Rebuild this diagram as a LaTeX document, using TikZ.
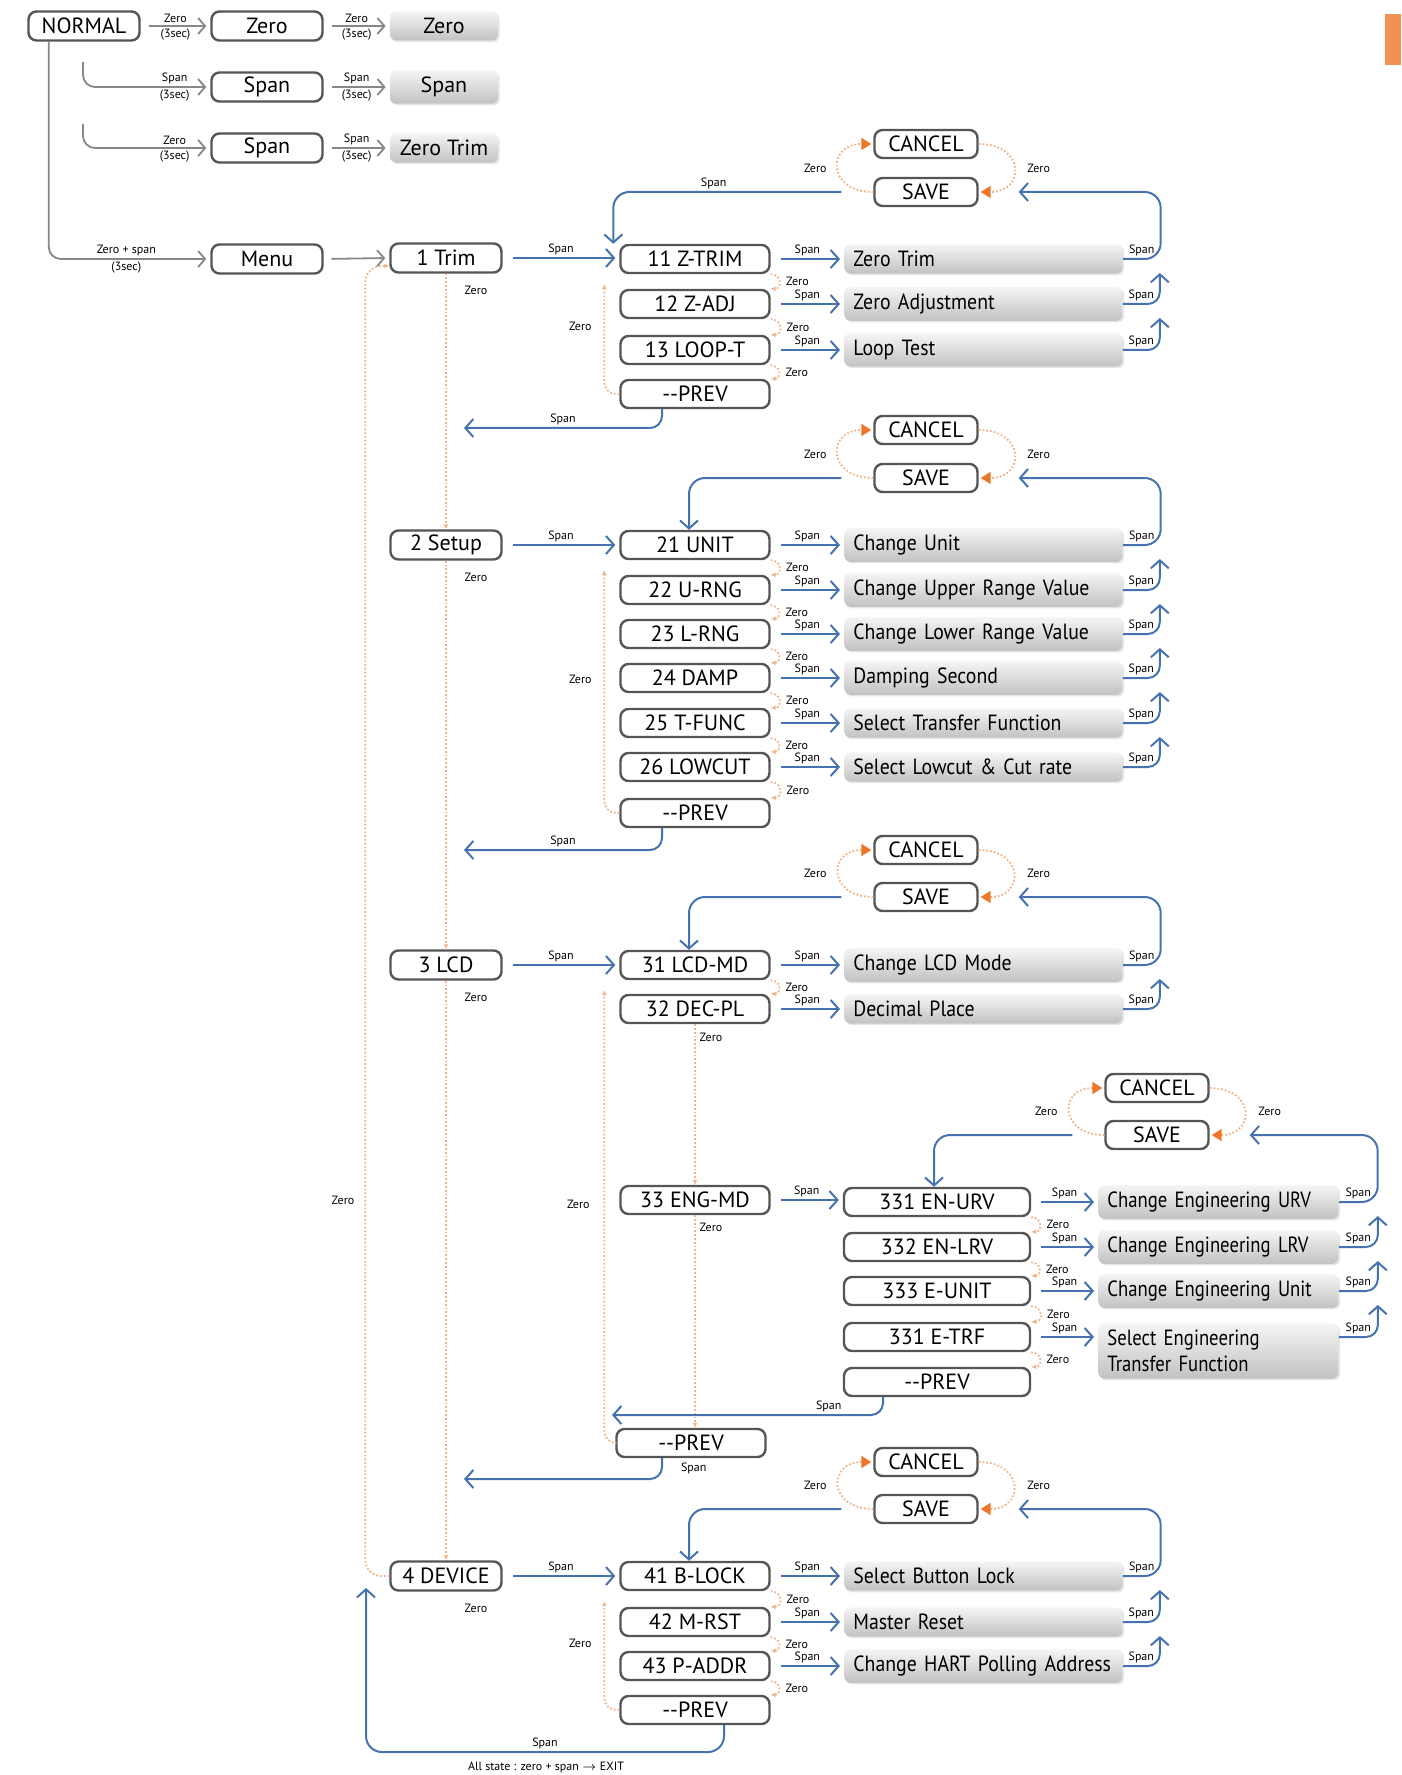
\documentclass[tikz,border=0pt]{standalone}
\usepackage{fontspec}
\setmainfont{PT Sans}
\newfontfamily\narrowA[FakeStretch=0.9]{PT Sans}
\newfontfamily\narrowB[FakeStretch=0.85]{PT Sans}
\usetikzlibrary{arrows.meta,calc,shadows}
\definecolor{boxln}{RGB}{85,85,85}
\definecolor{blu}{RGB}{70,115,175}
\definecolor{orng}{RGB}{238,118,40}
\definecolor{odl}{RGB}{244,178,135}
\definecolor{garr}{RGB}{135,135,135}
\begin{document}
\begin{tikzpicture}[x=0.5pt,y=-0.5pt,
  every node/.style={font=\fontsize{11}{13}\selectfont},
  mbox/.style={draw=boxln,line width=1.2pt,rounded corners=4pt,fill=white,minimum width=55.5pt,minimum height=14.5pt,inner sep=1pt},
  sbox/.style={mbox,minimum width=74.5pt,minimum height=14pt},
  ebox/.style={mbox,minimum width=93pt,minimum height=14pt},
  cbox/.style={mbox,minimum width=51.5pt,minimum height=14pt},
  tbox/.style={top color=black!4,bottom color=black!24,rounded corners=3pt,minimum width=54pt,minimum height=13.5pt,drop shadow={opacity=0.2,shadow xshift=0.8pt,shadow yshift=-0.8pt}},
  fbox/.style={tbox,anchor=west,minimum width=139pt,minimum height=14pt,text width=130pt,align=left,inner xsep=4.5pt,font=\narrowA\fontsize{11}{13}\selectfont},
  gbox/.style={fbox,minimum width=120pt,text width=111pt,font=\narrowB\fontsize{11}{13}\selectfont},
  lbl/.style={font=\fontsize{6}{7}\selectfont,inner sep=1pt},
  garrow/.style={draw=garr,line width=0.9pt,-{Straight Barb[length=3.5pt,width=8pt]}},
  gshort/.style={garrow,shorten <=4pt,shorten >=2pt},
  barrow/.style={draw=blu,line width=1pt,-{Straight Barb[length=4pt,width=9pt]}},
  sarrow/.style={barrow,shorten <=5pt,shorten >=2pt},
  odot/.style={draw=odl,line width=0.9pt,densely dotted},
  otip/.style={-{Triangle[length=5pt,width=6pt,color=orng]},shorten >=1pt},
  ztip/.style={-{Latex[length=2.5pt,width=2.5pt]}}]
\useasboundingbox (0,0) rectangle (1401,1775);
\fill[orng!80] (1385,14) rectangle (1401,65);

% normal mode
\node[mbox] (normal) at (84,26) {NORMAL};
\node[mbox] (zeroA) at (267,26) {Zero};
\node[tbox] (zeroB) at (444,26) {Zero};
\node[mbox] (spanA) at (267,87) {Span};
\node[tbox] (spanB) at (444,87) {Span};
\node[mbox] (spanC) at (267,148) {Span};
\node[tbox] (ztrimC) at (444,148) {Zero Trim};
\node[mbox] (menu) at (267,259) {Menu};
\coordinate (br2) at (83,62);
\coordinate (br3) at (83,124);
\draw[gshort] (normal.east) -- node[lbl,above]{Zero} node[lbl,below]{(3sec)} (zeroA.west);
\draw[gshort] (zeroA.east) -- node[lbl,above]{Zero} node[lbl,below]{(3sec)} (zeroB.west);
\draw[garrow,rounded corners=6pt,shorten >=2pt] (br2) |- node[lbl,pos=0.86,above]{Span} node[lbl,pos=0.86,below]{(3sec)} (spanA.west);
\draw[gshort] (spanA.east) -- node[lbl,above]{Span} node[lbl,below]{(3sec)} (spanB.west);
\draw[garrow,rounded corners=6pt,shorten >=2pt] (br3) |- node[lbl,pos=0.86,above]{Zero} node[lbl,pos=0.86,below]{(3sec)} (spanC.west);
\draw[gshort] (spanC.east) -- node[lbl,above]{Span} node[lbl,below]{(3sec)} (ztrimC.west);
\draw[garrow,rounded corners=6pt,shorten >=2pt] ($(normal.south west)+(21.5,0)$) |- node[lbl,pos=0.74,above]{Zero + span} node[lbl,pos=0.74,below]{(3sec)} (menu.west);

% main menu
\node[mbox] (trim) at (446,258) {1 Trim};
\node[mbox] (setup) at (446,545) {2 Setup};
\node[mbox] (lcd) at (446,965) {3 LCD};
\node[mbox] (device) at (446,1576) {4 DEVICE};
\draw[gshort] (menu.east) -- (trim.west);
\draw[odot,ztip] (trim.south) -- (setup.north);
\draw[odot,ztip] (setup.south) -- (lcd.north);
\draw[odot,ztip] (lcd.south) -- (device.north);
\foreach \m in {trim,setup,lcd,device}
  \node[lbl] at ($(\m.south)+(30,17)$) {Zero};
\draw[odot,ztip,rounded corners=8pt] (device.west) -- ++(-24,0) |- ($(trim.west)+(0,8)$);
\node[lbl] at (343,1200) {Zero};

% 1 trim
\node[cbox] (c1) at (926,144) {CANCEL};
\node[cbox] (v1) at (926,192) {SAVE};
\node[sbox] (s11) at (695,259) {11 Z-TRIM};
\node[sbox] (s12) at (695,304) {12 Z-ADJ};
\node[sbox] (s13) at (695,350) {13 LOOP-T};
\node[sbox] (s1p) at (695,394) {-{}-PREV};
\node[fbox] (f11) at (844,259) {Zero Trim};
\node[fbox] (f12) at (844,304) {Zero Adjustment};
\node[fbox] (f13) at (844,350) {Loop Test};

% 2 setup
\node[cbox] (c2) at (926,430) {CANCEL};
\node[cbox] (v2) at (926,478) {SAVE};
\node[sbox] (s21) at (695,545) {21 UNIT};
\node[sbox] (s22) at (695,590) {22 U-RNG};
\node[sbox] (s23) at (695,634) {23 L-RNG};
\node[sbox] (s24) at (695,678) {24 DAMP};
\node[sbox] (s25) at (695,723) {25 T-FUNC};
\node[sbox] (s26) at (695,767) {26 LOWCUT};
\node[sbox] (s2p) at (695,813) {-{}-PREV};
\node[fbox] (f21) at (844,545) {Change Unit};
\node[fbox] (f22) at (844,590) {Change Upper Range Value};
\node[fbox] (f23) at (844,634) {Change Lower Range Value};
\node[fbox] (f24) at (844,678) {Damping Second};
\node[fbox] (f25) at (844,723) {Select Transfer Function};
\node[fbox] (f26) at (844,767) {Select Lowcut \& Cut rate};

% 3 lcd
\node[cbox] (c3) at (926,850) {CANCEL};
\node[cbox] (v3) at (926,897) {SAVE};
\node[sbox] (s31) at (695,965) {31 LCD-MD};
\node[sbox] (s32) at (695,1009) {32 DEC-PL};
\node[sbox] (s33) at (695,1200) {33 ENG-MD};
\node[sbox] (s3p) at (691,1443) {-{}-PREV};
\node[fbox] (f31) at (844,965) {Change LCD Mode};
\node[fbox] (f32) at (844,1009) {Decimal Place};

% 33 eng-md
\node[cbox] (c33) at (1157,1088) {CANCEL};
\node[cbox] (v33) at (1157,1135) {SAVE};
\node[ebox] (t331) at (937,1202) {331 EN-URV};
\node[ebox] (t332) at (937,1247) {332 EN-LRV};
\node[ebox] (t333) at (937,1291) {333 E-UNIT};
\node[ebox] (t334) at (937,1337) {331 E-TRF};
\node[ebox] (t33p) at (937,1382) {-{}-PREV};
\node[gbox] (g331) at (1098,1202) {Change Engineering URV};
\node[gbox] (g332) at (1098,1247) {Change Engineering LRV};
\node[gbox] (g333) at (1098,1291) {Change Engineering Unit};
\node[gbox,minimum height=27pt] (g334) at (1098,1351) {Select Engineering\\Transfer Function};

% 4 device
\node[cbox] (c4) at (926,1462) {CANCEL};
\node[cbox] (v4) at (926,1509) {SAVE};
\node[sbox] (s41) at (695,1576) {41 B-LOCK};
\node[sbox] (s42) at (695,1622) {42 M-RST};
\node[sbox] (s43) at (695,1666) {43 P-ADDR};
\node[sbox] (s4p) at (695,1710) {-{}-PREV};
\node[fbox] (f41) at (844,1576) {Select Button Lock};
\node[fbox] (f42) at (844,1622) {Master Reset};
\node[fbox] (f43) at (844,1666) {Change HART Polling Address};

\coordinate (back1) at (464,428);
\coordinate (back2) at (464,850);
\coordinate (back3) at (464,1479);
\coordinate (back33) at (612,1415);
\coordinate (bot4) at (366,1752);
\coordinate (up4) at (366,1588);

% menu -> first item
\draw[sarrow] (trim.east) -- node[lbl,above]{Span} (trim.east -| s11.west);
\draw[sarrow] (setup.east) -- node[lbl,above]{Span} (setup.east -| s21.west);
\draw[sarrow] (lcd.east) -- node[lbl,above]{Span} (lcd.east -| s31.west);
\draw[sarrow] (device.east) -- node[lbl,above]{Span} (device.east -| s41.west);
\draw[sarrow] (s33.east) -- node[lbl,above]{Span} (s33.east -| t331.west);

% item -> function
\foreach \s in {11,12,13,21,22,23,24,25,26,31,32,41,42,43}
  \draw[sarrow] (s\s.east) -- node[lbl,above]{Span} (f\s.west);
\foreach \s in {331,332,333,334}
  \draw[sarrow] (t\s.east) -- node[lbl,above]{Span} (t\s -| g\s.west);

% zero steps
\foreach \a/\b in {11/12,12/13,13/1p,21/22,22/23,23/24,24/25,25/26,26/2p,31/32,41/42,42/43,43/4p}
  \draw[odot,ztip] (s\a.south east) to[out=0,in=0,looseness=2] node[lbl,right=2pt]{Zero} (s\b.north east);
\foreach \a/\b in {331/332,332/333,333/334,334/33p}
  \draw[odot,ztip] (t\a.south east) to[out=0,in=0,looseness=2] node[lbl,right=2pt]{Zero} (t\b.north east);
\draw[odot,ztip] (s32.south) -- (s33.north);
\draw[odot,ztip] (s33.south) -- (s33.south |- s3p.north);
\node[lbl] at ($(s32.south)+(16,13)$) {Zero};
\node[lbl] at ($(s33.south)+(16,12)$) {Zero};
\foreach \a/\b in {11/1p,21/2p,31/3p,41/4p} {
  \draw[odot,ztip,rounded corners=6pt] (s\b.west) -| ($(s\a.south west)+(-15,10)$);
  \node[lbl] at ($(s\a.west)!0.5!(s\b.west)+(-39,0)$) {Zero};
}

% cancel / save
\foreach \v in {1,2,3,4,33} {
  \draw[odot,otip] (v\v.west) to[out=180,in=180,looseness=2.5] (c\v.west);
  \draw[odot,otip] (c\v.east) to[out=0,in=0,looseness=2.5] (v\v.east);
  \node[lbl] at ($(c\v.west)!0.5!(v\v.west)+(-58,0)$) {Zero};
  \node[lbl] at ($(c\v.east)!0.5!(v\v.east)+(60,0)$) {Zero};
}

% span back to save
\foreach \a/\b in {11/12,12/13,21/22,22/23,23/24,24/25,25/26,31/32,41/42,42/43}
  \draw[barrow,rounded corners=6pt] (f\b.east) -| node[lbl,pos=0.25,above]{Span} ($(f\a.east)+(37,14)$);
\foreach \a/\v in {11/1,21/2,31/3,41/4}
  \draw[barrow,rounded corners=8pt] (f\a.east) -| node[lbl,pos=0.25,above]{Span} ($(v\v.east)+(182,0)$) -- ($(v\v.east)+(40,0)$);
\foreach \a/\b in {331/332,332/333,333/334}
  \draw[barrow,rounded corners=6pt] (t\b -| g\b.east) -| node[lbl,pos=0.25,above]{Span} ($(g\a.east)+(39,14)$);
\draw[barrow,rounded corners=8pt] (g331.east) -| node[lbl,pos=0.25,above]{Span} ($(v33.east)+(168,0)$) -- ($(v33.east)+(40,0)$);

% save -> first item
\draw[barrow,rounded corners=8pt] ($(v1.west)+(-32,0)$) -| node[lbl,pos=0.28,above]{Span} ($(s11.north west)+(-6,0)$);
\draw[barrow,rounded corners=8pt] ($(v2.west)+(-32,0)$) -| ($(s21.north)+(-6,0)$);
\draw[barrow,rounded corners=8pt] ($(v3.west)+(-32,0)$) -| ($(s31.north)+(-6,0)$);
\draw[barrow,rounded corners=8pt] ($(v33.west)+(-32,0)$) -| ($(t331.north)+(-3,0)$);
\draw[barrow,rounded corners=8pt] ($(v4.west)+(-32,0)$) -| ($(s41.north)+(-6,0)$);

% prev
\draw[barrow,rounded corners=6pt] ($(s1p.south)+(-33,0)$) |- node[lbl,pos=0.75,above]{Span} (back1);
\draw[barrow,rounded corners=6pt] ($(s2p.south)+(-33,0)$) |- node[lbl,pos=0.75,above]{Span} (back2);
\draw[barrow,rounded corners=6pt] ($(s3p.south)+(-29,0)$) |- node[lbl,pos=0.25,anchor=west,xshift=8pt]{Span} (back3);
\draw[barrow,rounded corners=6pt] ($(t33p.south)+(-54,0)$) |- node[lbl,pos=0.6,above]{Span} (back33);
\draw[barrow,rounded corners=8pt] ($(s4p.south)+(29,0)$) |- node[lbl,pos=0.75,above]{Span} (bot4) -- (up4);
\node[lbl] (exit) at (546,1767) {All state : zero + span $\rightarrow$ EXIT};
\end{tikzpicture}
\end{document}
